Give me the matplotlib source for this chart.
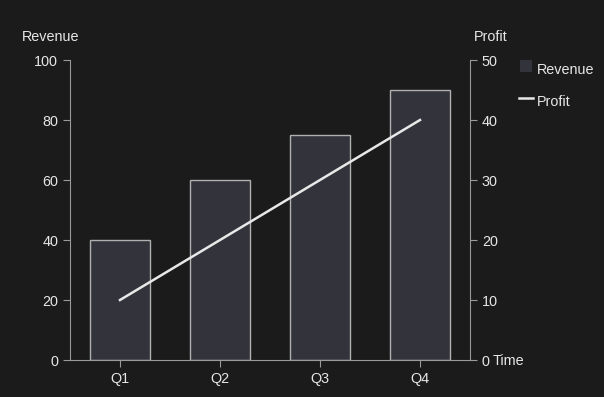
import matplotlib.pyplot as plt
from matplotlib.patches import Rectangle
from matplotlib.lines import Line2D
import numpy as np

quarters = ['Q1', 'Q2', 'Q3', 'Q4']
revenue = [40, 60, 75, 90]
profit = [10, 20, 30, 40]

bg = '#1b1b1b'
fg = '#e6e6e6'
axis_col = '#9a9a9a'
bar_col = '#33333b'

plt.rcParams['font.family'] = ['Liberation Sans', 'DejaVu Sans']
plt.rcParams['font.size'] = 10.4

W, H = 604, 397
fig = plt.figure(figsize=(6.04, 3.97), dpi=100, facecolor=bg)
ax = fig.add_axes([70 / W, 37 / H, 400 / W, 300 / H])
ax.set_facecolor(bg)
ax2 = ax.twinx()

x = np.arange(len(quarters))
ax.bar(x, revenue, width=0.6, color=bar_col, edgecolor='#b0b0b0', linewidth=1)
ax2.plot(x, profit, color='#e8e8e8', linewidth=1.8)

ax.set_xlim(-0.5, 3.5)
ax.set_ylim(0, 100)
ax2.set_ylim(0, 50)
ax.set_xticks(x)
ax.set_xticklabels(quarters)
ax.set_yticks(range(0, 101, 20))
ax2.set_yticks(range(0, 51, 10))

for a in (ax, ax2):
    a.spines['top'].set_visible(False)
    for s in a.spines.values():
        s.set_color(axis_col)
    a.tick_params(colors=axis_col, labelcolor=fg, length=5)
ax.spines['right'].set_visible(False)
ax2.spines['left'].set_visible(False)
ax2.spines['bottom'].set_visible(False)

fig.text(22 / W, 1 - 37 / H, 'Revenue', color=fg, va='center', ha='left')
fig.text(474 / W, 1 - 37 / H, 'Profit', color=fg, va='center', ha='left')
fig.text(493 / W, 1 - 361 / H, 'Time', color=fg, va='center', ha='left')

# legend drawn by hand
fig.patches.append(Rectangle((520 / W, 1 - 72 / H), 12 / W, 12 / H,
                             transform=fig.transFigure, facecolor=bar_col, edgecolor='none'))
fig.lines.append(Line2D([519 / W, 533 / W], [1 - 98 / H, 1 - 98 / H],
                        transform=fig.transFigure, color='#e8e8e8', linewidth=1.8))
fig.text(537 / W, 1 - 70 / H, 'Revenue', color=fg, va='center', ha='left')
fig.text(537 / W, 1 - 102 / H, 'Profit', color=fg, va='center', ha='left')

fig.savefig('out.png', dpi=100, facecolor=bg)
